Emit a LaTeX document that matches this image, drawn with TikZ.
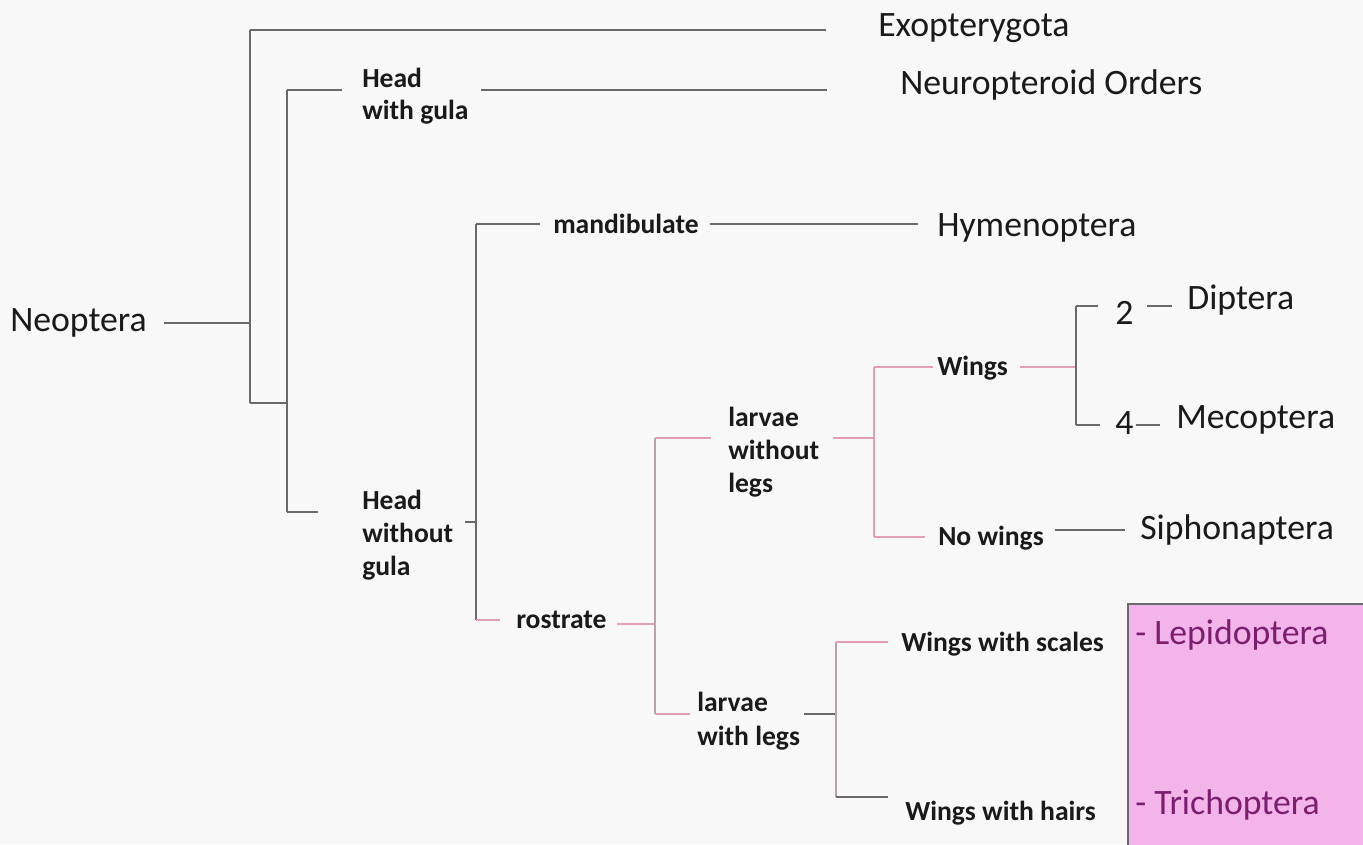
\documentclass[tikz,border=0pt]{standalone}
\usepackage{fontspec}
\setmainfont{Carlito}
\definecolor{bg}{HTML}{F8F8F8}
\definecolor{lgray}{HTML}{6A6A6A}
\definecolor{lpink}{HTML}{E3A0B2}
\definecolor{lmix}{HTML}{B9A3AB}
\definecolor{boxfill}{HTML}{F3B4EA}
\definecolor{boxtext}{HTML}{7A1F6E}
\definecolor{txt}{HTML}{1A1A1A}
\begin{document}
\begin{tikzpicture}[x=0.75pt,y=-0.75pt,
  big/.style={anchor=west,inner sep=0pt,text=txt,font=\fontsize{26.8}{30}\selectfont},
  lab/.style={anchor=west,inner sep=0pt,text=txt,align=left,font=\fontsize{20.7}{25}\selectfont\bfseries},
  tl/.style={draw=lgray,line width=1.4pt},
  pl/.style={draw=lpink,line width=1.4pt},
  ml/.style={draw=lmix,line width=1.4pt},
  boxtxt/.style={anchor=west,inner sep=0pt,text=boxtext,font=\fontsize{26.8}{30}\selectfont}]
\useasboundingbox (0,0) rectangle (1363,844);
\fill[bg] (0,0) rectangle (1363,844);

% pink box
\node[draw=lgray,line width=1.2pt,fill=boxfill,minimum width=240*0.75pt,minimum height=245*0.75pt,anchor=north west,inner sep=0pt] (box) at (1127,603) {};

% text nodes
\node[big] (neo) at (10,323) {Neoptera};
\node[big] (exo) at (878,28) {Exopterygota};
\node[big] (neur) at (900,85) {Neuropteroid Orders};
\node[lab,font=\fontsize{20.7}{24}\selectfont\bfseries] (hwg) at (362,96) {Head\\with gula};
\node[lab] (hwog) at (362,535) {Head\\without\\gula};
\node[lab] (mand) at (553,224) {mandibulate};
\node[big] (hym) at (937,228) {Hymenoptera};
\node[lab] (rost) at (516,620) {rostrate};
\node[lab] (lwol) at (728,452) {larvae\\without\\legs};
\node[lab] (wings) at (937,368) {Wings};
\node[big] (two) at (1115,313) {2};
\node[big] (dip) at (1187,300) {Diptera};
\node[big] (four) at (1115,423) {4};
\node[big] (mec) at (1176,420) {Mecoptera};
\node[lab] (now) at (938,538) {No wings};
\node[big] (siph) at (1140,530) {Siphonaptera};
\node[lab] (lwl) at (697,721) {larvae\\with legs};
\node[lab] (wws) at (901,644) {Wings with scales};
\node[lab] (wwh) at (905,813) {Wings with hairs};
\node[boxtxt] (lep) at (1135,635) {- Lepidoptera};
\node[boxtxt] (tri) at (1135,805) {- Trichoptera};

% junction coordinates
\coordinate (j1t) at (250,30);
\coordinate (j1m) at (250,323);
\coordinate (j1b) at (250,403);
\coordinate (j2t) at (287,90);
\coordinate (j2b) at (287,512);
\coordinate (j3t) at (476,224);
\coordinate (j3m) at (476,522);
\coordinate (j3b) at (476,620);
\coordinate (j4t) at (655,438);
\coordinate (j4m) at (655,624);
\coordinate (j4b) at (655,714);
\coordinate (j5t) at (874,367);
\coordinate (j5m) at (874,438);
\coordinate (j5b) at (874,537);
\coordinate (j6t) at (1076,306);
\coordinate (j6m) at (1076,367);
\coordinate (j6b) at (1076,425);
\coordinate (j7t) at (836,642);
\coordinate (j7m) at (836,714);
\coordinate (j7b) at (836,797);

% level 1
\draw[tl] ([xshift=13pt]neo.east) -- (j1m);
\draw[tl] (j1t) -- (j1b);
\draw[tl] (j1t) -- ([xshift=-39pt]exo.west |- j1t);
\draw[tl] (j1b) -- (j2t |- j1b);
% level 2
\draw[tl] (j2t) -- (j2b);
\draw[tl] (j2t) -- ([xshift=-15pt]hwg.west |- j2t);
\draw[tl] ([xshift=9pt]hwg.east |- j2t) -- ([xshift=-55pt]neur.west |- j2t);
\draw[tl] (j2b) -- ([xshift=-33pt]hwog.west |- j2b);
\draw[tl] ([xshift=9pt]hwog.east |- j3m) -- (j3m);
% level 3
\draw[tl] (j3t) -- (j3b);
\draw[tl] (j3t) -- ([xshift=-10pt]mand.west |- j3t);
\draw[tl] ([xshift=8pt]mand.east |- j3t) -- ([xshift=-14pt]hym.west |- j3t);
\draw[pl] (j3b) -- ([xshift=-12pt]rost.west |- j3b);
\draw[pl] ([xshift=8pt]rost.east |- j4m) -- (j4m);
% level 4
\draw[ml] (j4t) -- (j4b);
\draw[pl] (j4t) -- ([xshift=-13pt]lwol.west |- j4t);
\draw[pl] ([xshift=10pt]lwol.east |- j5m) -- (j5m);
\draw[pl] (j4b) -- ([xshift=-5pt]lwl.west |- j4b);
\draw[tl] ([xshift=3pt]lwl.east |- j7m) -- (j7m);
% level 5 (legless larvae)
\draw[pl] (j5t) -- (j5b);
\draw[pl] (j5t) -- ([xshift=-3pt]wings.west |- j5t);
\draw[pl] ([xshift=9pt]wings.east |- j6m) -- (j6m);
\draw[pl] (j5b) -- ([xshift=-10pt]now.west |- j5b);
\draw[tl] ([xshift=8pt]now.east |- siph) -- ([xshift=-11pt]siph.west);
% level 6 (wings)
\draw[tl] (j6t) -- ([xshift=-12.5pt]two.west |- j6t);
\draw[tl] (j6t) -- (j6b);
\draw[tl] ([xshift=10pt]two.east |- j6t) -- ([xshift=-11pt]dip.west |- j6t);
\draw[tl] (j6b) -- ([xshift=-11pt]four.west |- j6b);
\draw[tl] ([xshift=1.5pt]four.east |- j6b) -- ([xshift=-12pt]mec.west |- j6b);
% level 7 (legged larvae)
\draw[ml] (j7t) -- (j7b);
\draw[pl] (j7t) -- ([xshift=-10pt]wws.west |- j7t);
\draw[tl] (j7b) -- ([xshift=-13pt]wwh.west |- j7b);
\end{tikzpicture}
\end{document}
